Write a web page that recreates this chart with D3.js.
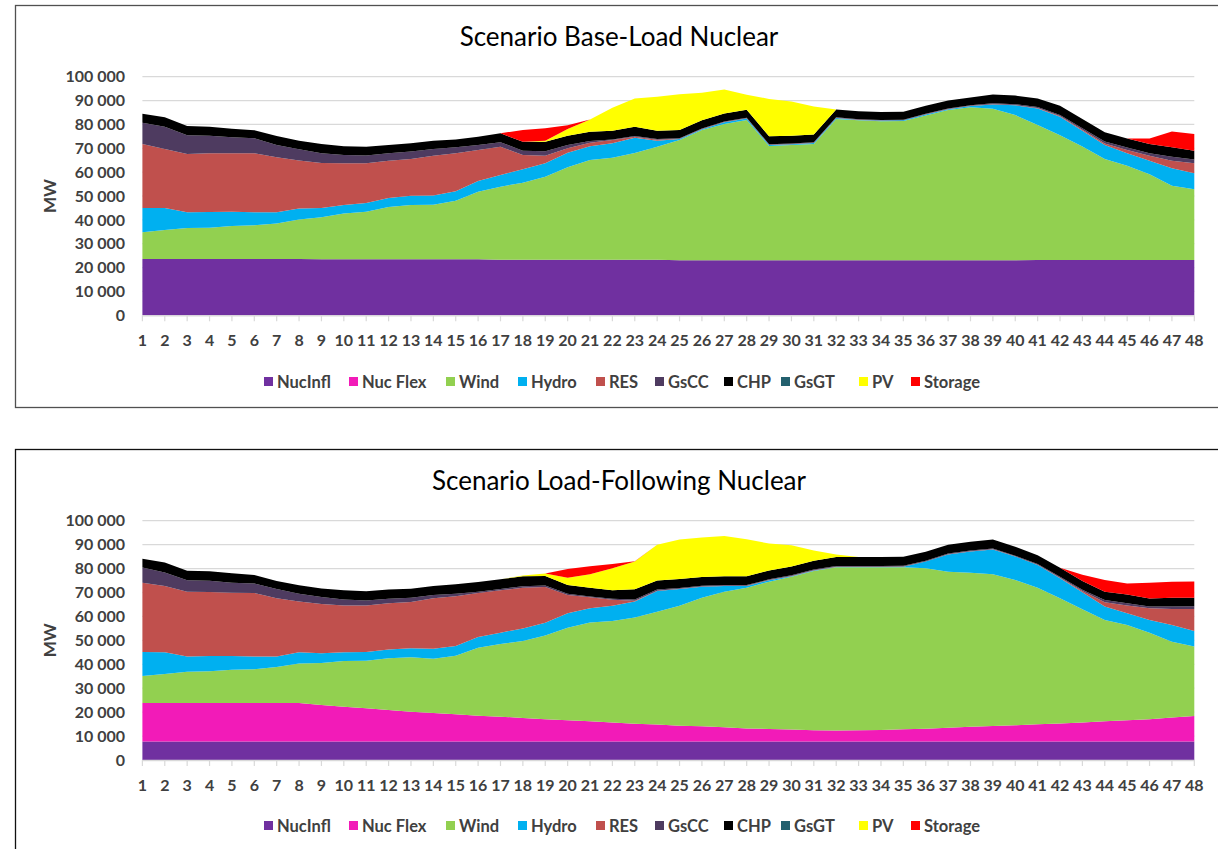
<!DOCTYPE html>
<html>
<head>
<meta charset="utf-8">
<script src="https://cdn.jsdelivr.net/npm/d3@7"></script>
<style>
  body { margin: 0; background: #fff; }
  svg { display: block; }
  text { font-family: Lato, "Open Sans", sans-serif; }
</style>
</head>
<body>
<svg id="chart" width="1218" height="849"></svg>
<script>
// hours of the two days
var hours = [1,2,3,4,5,6,7,8,9,10,11,12,13,14,15,16,17,18,19,20,21,22,23,24,
             25,26,27,28,29,30,31,32,33,34,35,36,37,38,39,40,41,42,43,44,45,46,47,48];

var seriesNames = ["NucInfl", "Nuc Flex", "Wind", "Hydro", "RES", "GsCC", "CHP", "GsGT", "PV", "Storage"];
var seriesColors = ["#7030a0", "#f21bb8", "#92d050", "#00b0f0", "#c0504d", "#4e3b60", "#000000", "#23606e", "#ffff00", "#ff0000"];
var yTicks = [0,10000,20000,30000,40000,50000,60000,70000,80000,90000,100000];

// scenario base-load nuclear (MW)
var baseNucInfl = [23600,23600,23600,23600,23600,23600,23600,23600,23500,23500,23500,23500,23500,23500,23500,23500,
                   23300,23300,23300,23300,23300,23300,23300,23300,23100,23100,23100,23100,23100,23100,23100,23100,
                   23100,23100,23100,23100,23100,23100,23100,23100,23200,23200,23200,23200,23200,23200,23200,23200];
var baseNucFlex = [0,0,0,0,0,0,0,0,0,0,0,0,0,0,0,0,0,0,0,0,0,0,0,0,0,0,0,0,0,0,0,0,0,0,0,0,0,0,0,0,0,0,0,0,0,0,0,0];
var baseWind = [11200,12100,13000,13100,13800,14100,14900,16600,17600,19200,19900,21900,22700,22800,24500,28300,
                30600,32300,34800,38700,41800,42700,44700,47300,50400,54600,57100,58800,47900,48300,48700,59200,
                58600,58200,58300,60600,62900,64100,63500,60800,56600,52300,47500,42300,39500,35900,31100,29600];
var baseHydro = [10200,9300,6600,6600,6000,5500,4700,4600,3900,3500,3700,3800,3900,3900,4000,4500,
                 4900,5600,5600,6100,5800,6100,6400,2600,400,300,700,600,400,300,400,400,
                 200,300,300,500,400,500,1800,4100,6900,7700,6600,5900,5200,5700,7300,6700];
var baseRes = [26800,24700,24400,24600,24500,24700,23000,20100,18800,17500,16600,15600,15400,16700,15900,13000,
               11800,6000,3200,1900,1400,1400,400,400,100,100,100,100,100,100,100,100,
               100,100,100,100,100,100,100,100,200,300,500,600,1400,2100,3200,4200];
var baseGsCC = [8900,9300,7900,7400,6700,6300,5200,4700,4100,3500,3300,3100,3100,2800,2500,2100,
                1900,1800,1900,1400,700,200,300,300,200,200,200,200,200,200,200,200,
                200,200,200,200,200,200,400,400,400,500,600,800,1000,1000,1700,1600];
var baseChp = [3800,4000,3800,3700,3600,3400,3700,3600,3900,3700,3600,3500,3500,3500,3300,3400,
               3800,3700,3900,3900,3900,3600,3900,3400,3500,3500,3400,3300,3300,3300,3300,3300,
               3300,3300,3300,3300,3300,3300,3600,3600,3600,3800,3900,3900,3800,3900,3900,3700];
var baseGsGT = [0,0,0,0,0,0,0,0,0,0,0,0,0,0,0,0,0,0,0,0,0,0,0,0,0,0,0,0,0,0,0,0,0,0,0,0,0,0,0,0,0,0,0,0,0,0,0,0];
var basePv = [0,0,0,0,0,0,0,0,0,0,0,0,0,0,0,0,
              0,0,500,2800,5200,9700,11900,14300,14900,11500,10000,6300,15700,14300,11700,0,
              0,0,0,0,0,0,0,0,0,0,0,0,0,0,0,0];
var baseStorage = [0,0,0,0,0,0,0,0,0,0,0,0,0,0,0,0,
                   0,5000,5200,1600,0,0,0,0,0,0,0,0,0,0,0,0,
                   0,0,0,0,0,0,0,0,0,0,0,0,0,2300,6600,7000];

// scenario load-following nuclear (MW)
var lfNucInfl = [7700,7700,7700,7700,7700,7700,7700,7700,7700,7700,7700,7700,7700,7700,7700,7700,
                 7700,7700,7700,7700,7700,7700,7700,7700,7700,7700,7700,7700,7700,7700,7700,7700,
                 7700,7700,7700,7700,7700,7700,7700,7700,7700,7700,7700,7700,7700,7700,7700,7700];
var lfNucFlex = [16100,16100,16100,16100,16100,16100,16100,16100,15300,14600,13900,13200,12500,11900,11400,10800,
                 10400,9900,9300,8900,8500,8000,7500,7100,6600,6400,6000,5500,5300,5000,4700,4600,
                 4700,4800,5100,5400,5800,6200,6500,6800,7200,7600,8000,8500,8900,9300,10100,10700];
var lfWind = [11300,12100,13100,13300,13900,14100,15100,16500,17500,19100,19900,21600,22700,22700,24500,28400,
              30400,32100,35000,38700,41300,42400,44300,47200,50200,53700,56600,58800,61500,63900,66600,68200,
              68100,68000,67700,67000,65200,64400,63400,60700,57100,52300,47300,42300,39800,36200,31600,29000];
var lfHydro = [10000,9100,6400,6400,5800,5400,4400,4700,4100,3600,3600,3700,3800,4200,4000,4500,
               4700,5300,5400,6000,5900,6400,6700,8600,7000,4600,2400,700,600,200,200,200,
               200,200,300,2800,7200,8800,10400,9800,9500,8300,7100,5600,4900,5300,7000,6500];
var lfRes = [29000,27700,27000,26700,26400,26500,24300,21200,20600,19600,19500,19300,19300,21100,20800,18400,
             17700,17000,14900,7700,4600,2500,400,100,100,100,100,100,100,100,100,100,
             100,100,100,100,100,100,100,100,100,300,500,1800,3300,4900,6700,9200];
var lfGsCC = [6300,5700,4800,4700,4200,4000,3900,3300,2900,2500,2100,1900,1800,1400,1100,500,
              600,600,600,500,300,400,500,500,300,300,300,300,300,300,300,300,
              300,300,300,300,300,300,300,300,300,400,500,1000,900,700,1000,1200];
var lfChp = [3700,4100,4000,4000,3900,3500,3300,3500,3600,3800,3800,3800,3800,3700,3900,4100,
             4000,4200,4000,3600,3700,3500,4300,3800,3700,3700,3700,3700,3700,3700,3700,3700,
             3700,3700,3700,3700,3700,3700,3700,3700,3700,3700,3700,3400,3700,3400,3700,3500];
var lfGsGT = [0,0,0,0,0,0,0,0,0,0,0,0,0,0,0,0,0,0,0,0,0,0,0,0,0,0,0,0,0,0,0,0,0,0,0,0,0,0,0,0,0,0,0,0,0,0,0,0];
var lfPv = [0,0,0,0,0,0,0,0,0,0,0,0,0,0,0,0,
            0,300,1000,3100,5600,9200,11500,14900,16500,16500,16800,15400,11300,8800,4200,1100,
            0,0,0,0,0,0,0,0,0,0,0,0,0,0,0,0];
var lfStorage = [0,0,0,0,0,0,0,0,0,0,0,0,0,0,0,0,
                 0,0,0,3600,3400,1800,200,0,0,0,0,0,0,0,0,0,
                 0,0,0,0,0,0,0,0,0,0,2600,4900,4600,6600,6700,6800];

var svg = d3.select("#chart");
var fmt = d3.formatLocale({decimal: ".", thousands: " ", grouping: [3], currency: ["", ""]}).format(",d");

// legend positions (square x)
var legendX = [264, 349, 446, 518, 596, 655, 724, 781, 859, 911];

function drawPanel(p) {
  // outer frame
  svg.append("rect")
    .attr("x", 15.5).attr("y", p.boxTop + 0.5)
    .attr("width", 1240).attr("height", p.boxHeight)
    .attr("fill", "none").attr("stroke", p.frameColor).attr("stroke-width", 1.3);

  // title
  svg.append("text")
    .attr("x", 619).attr("y", p.titleY)
    .attr("text-anchor", "middle")
    .attr("font-size", 26).attr("fill", "#000")
    .text(p.title);

  var x = d3.scalePoint().domain(hours).range([142.4, 1194.3]);
  var y = d3.scaleLinear().domain([0, 100000]).range([p.y0, p.y1]);

  // grid lines
  svg.append("g").selectAll("line")
    .data(yTicks.slice(1))
    .enter().append("line")
    .attr("x1", 142.4).attr("x2", 1194.3)
    .attr("y1", function(d){ return y(d); }).attr("y2", function(d){ return y(d); })
    .attr("stroke", "#d9d9d9").attr("stroke-width", 1.3);

  // build rows for the stack
  var rows = hours.map(function(h, i){
    var r = {hour: h};
    seriesNames.forEach(function(name, k){ r[name] = p.series[k][i]; });
    return r;
  });

  var stacked = d3.stack().keys(seriesNames)(rows);

  var area = d3.area()
    .x(function(d){ return x(d.data.hour); })
    .y0(function(d){ return y(d[0]); })
    .y1(function(d){ return y(d[1]); });

  svg.append("g").selectAll("path")
    .data(stacked)
    .enter().append("path")
    .attr("d", area)
    .attr("fill", function(d, i){ return seriesColors[i]; });

  // x axis line and ticks
  svg.append("line")
    .attr("x1", 142.4).attr("x2", 1194.3)
    .attr("y1", p.y0 + 0.5).attr("y2", p.y0 + 0.5)
    .attr("stroke", "#d9d9d9").attr("stroke-width", 1.3);

  svg.append("g").selectAll("line")
    .data(hours)
    .enter().append("line")
    .attr("x1", function(d){ return x(d); }).attr("x2", function(d){ return x(d); })
    .attr("y1", p.y0).attr("y2", p.y0 + 6)
    .attr("stroke", "#d9d9d9").attr("stroke-width", 1.2);

  // x labels
  svg.append("g").selectAll("text")
    .data(hours)
    .enter().append("text")
    .attr("x", function(d){ return x(d); })
    .attr("y", p.y0 + 31)
    .attr("text-anchor", "middle")
    .attr("font-size", 16).attr("font-weight", "bold").attr("fill", "#404040")
    .text(function(d){ return d; });

  // y labels
  svg.append("g").selectAll("text")
    .data(yTicks)
    .enter().append("text")
    .attr("x", 125)
    .attr("y", function(d){ return y(d); })
    .attr("dy", "0.36em")
    .attr("text-anchor", "end")
    .attr("font-size", 16).attr("font-weight", "bold").attr("fill", "#404040")
    .text(function(d){ return fmt(d); });

  // y axis title
  svg.append("text")
    .attr("transform", "translate(56," + ((p.y0 + p.y1) / 2) + ") rotate(-90)")
    .attr("text-anchor", "middle")
    .attr("font-size", 17).attr("font-weight", "bold").attr("fill", "#404040")
    .text("MW");

  // legend
  var leg = svg.append("g").selectAll("g")
    .data(seriesNames)
    .enter().append("g")
    .attr("transform", function(d, i){ return "translate(" + legendX[i] + "," + p.legendY + ")"; });

  leg.append("rect")
    .attr("x", 0).attr("y", -5)
    .attr("width", 9).attr("height", 9)
    .attr("fill", function(d, i){ return seriesColors[i]; });

  leg.append("text")
    .attr("x", 13).attr("y", 0)
    .attr("dy", "0.35em")
    .attr("font-size", 16.5).attr("font-weight", "bold").attr("fill", "#404040")
    .text(function(d){ return d; });
}

drawPanel({
  title: "Scenario Base-Load Nuclear",
  boxTop: 5, boxHeight: 402, frameColor: "#505050",
  titleY: 46, y0: 315.3, y1: 76.7, legendY: 382,
  series: [baseNucInfl, baseNucFlex, baseWind, baseHydro, baseRes, baseGsCC, baseChp, baseGsGT, basePv, baseStorage]
});

drawPanel({
  title: "Scenario Load-Following Nuclear",
  boxTop: 449, boxHeight: 420, frameColor: "#111",
  titleY: 490, y0: 760, y1: 520.7, legendY: 826,
  series: [lfNucInfl, lfNucFlex, lfWind, lfHydro, lfRes, lfGsCC, lfChp, lfGsGT, lfPv, lfStorage]
});
</script>
</body>
</html>
